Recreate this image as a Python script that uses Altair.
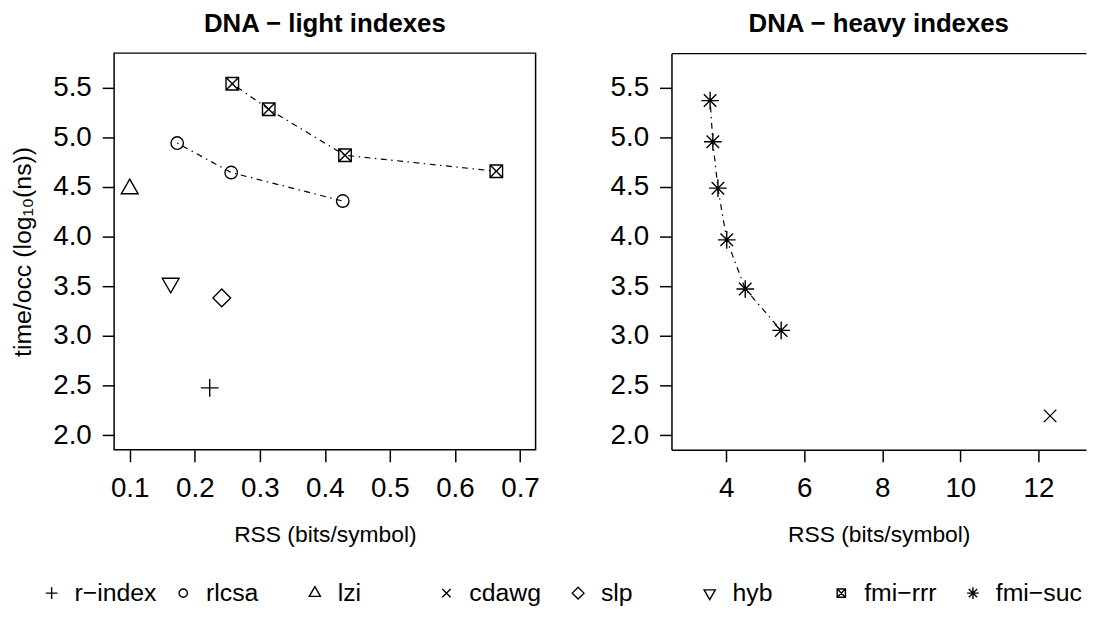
import altair as alt
import pandas as pd

FONT = "Liberation Sans"

# legend order and R-like symbol shapes (unit: R symbol radius)
methods = ["r−index", "rlcsa", "lzi", "cdawg", "slp", "hyb", "fmi−rrr", "fmi−suc"]
shapes = [
    "M-1.414,0L1.414,0M0,-1.414L0,1.414",
    "M1,0A1,1,0,1,1,-1,0A1,1,0,1,1,1,0Z",
    "M0,-1.555L1.347,0.778L-1.347,0.778Z",
    "M-1,-1L1,1M-1,1L1,-1",
    "M0,-1.414L1.414,0L0,1.414L-1.414,0Z",
    "M0,1.555L1.347,-0.778L-1.347,-0.778Z",
    "M-1,-1L1,-1L1,1L-1,1ZM-1,-1L1,1M-1,1L1,-1",
    "M-1.414,0L1.414,0M0,-1.414L0,1.414M-1,-1L1,1M-1,1L1,-1",
]

# DNA - light indexes
light_method = ["r−index", "rlcsa", "rlcsa", "rlcsa", "lzi", "slp", "hyb",
                "fmi−rrr", "fmi−rrr", "fmi−rrr", "fmi−rrr"]
light_rss = [0.223, 0.173, 0.256, 0.4275, 0.100, 0.2415, 0.163,
             0.2577, 0.3137, 0.431, 0.6636]
light_time = [2.476, 4.942, 4.645, 4.358, 4.48, 3.382, 3.531,
              5.54, 5.283, 4.819, 4.658]

# DNA - heavy indexes
heavy_method = ["cdawg", "fmi−suc", "fmi−suc", "fmi−suc", "fmi−suc", "fmi−suc", "fmi−suc"]
heavy_rss = [12.30, 3.59, 3.66, 3.79, 4.016, 4.49, 5.41]
heavy_time = [2.194, 5.37, 4.955, 4.488, 3.967, 3.472, 3.055]

y_ticks = [2.0, 2.5, 3.0, 3.5, 4.0, 4.5, 5.0, 5.5]
light_x_ticks = [0.1, 0.2, 0.3, 0.4, 0.5, 0.6, 0.7]
heavy_x_ticks = [4, 6, 8, 10, 12]

light = pd.DataFrame({"method": light_method, "rss": light_rss, "time": light_time})
heavy = pd.DataFrame({"method": heavy_method, "rss": heavy_rss, "time": heavy_time})
legend_df = pd.DataFrame({"method": methods})

DASH = [1.5, 4.5, 6, 4.5]
PT_SIZE = 159

shape_scale = alt.Scale(domain=methods, range=shapes)
shape_enc = alt.Shape("method:N", scale=shape_scale, legend=None)

y_scale = alt.Scale(domain=[1.852, 5.848], nice=False, zero=False)


def y_axis(title, domain):
    kw = dict(values=y_ticks, format=".1f", domain=domain, labelPadding=11)
    if title:
        kw["title"] = title
        kw["titlePadding"] = 17
        kw["titleFontSize"] = 25
    else:
        kw["title"] = None
    return alt.Axis(**kw)


def panel_title(text):
    return alt.TitleParams(text, fontSize=26, fontWeight="bold", font=FONT,
                           anchor="middle", offset=16, color="black")


# ---------- left panel ----------
lx_scale = alt.Scale(domain=[0.076, 0.724], nice=False, zero=False)
lx_axis = alt.Axis(values=light_x_ticks, format=".1f", title="RSS (bits/symbol)",
                   domain=False, labelPadding=13, titlePadding=21)
ly_axis = y_axis("time/occ (log₁₀(ns))", False)

left_lines = (
    alt.Chart(light)
    .transform_filter(alt.FieldOneOfPredicate(field="method", oneOf=["rlcsa", "fmi−rrr"]))
    .mark_line(color="black", strokeWidth=1.2, strokeDash=DASH)
    .encode(
        x=alt.X("rss:Q", scale=lx_scale, axis=lx_axis),
        y=alt.Y("time:Q", scale=y_scale, axis=ly_axis),
        detail="method:N",
    )
)
left_pts = (
    alt.Chart(light)
    .mark_point(filled=False, color="black", size=PT_SIZE, strokeWidth=1.4, opacity=1)
    .encode(
        x=alt.X("rss:Q", scale=lx_scale, axis=lx_axis),
        y=alt.Y("time:Q", scale=y_scale, axis=ly_axis),
        shape=shape_enc,
    )
)
left = alt.layer(left_lines, left_pts).properties(
    width=425, height=400,
    title=panel_title("DNA − light indexes"),
    view=alt.ViewBackground(stroke="black", strokeWidth=1.5),
)

# ---------- right panel ----------
rx_scale = alt.Scale(domain=[2.6, 13.22], nice=False, zero=False)
rx_axis = alt.Axis(values=heavy_x_ticks, format="d", title="RSS (bits/symbol)",
                   domain=True, labelPadding=13, titlePadding=21)
rx_top = alt.Axis(orient="top", labels=False, ticks=False, domain=True, title=None)
ry_axis = y_axis(None, True)

right_line = (
    alt.Chart(heavy)
    .transform_filter(alt.FieldEqualPredicate(field="method", equal="fmi−suc"))
    .mark_line(color="black", strokeWidth=1.2, strokeDash=DASH)
    .encode(
        x=alt.X("rss:Q", scale=rx_scale, axis=rx_top),
        y=alt.Y("time:Q", scale=y_scale, axis=ry_axis),
    )
)
right_pts = (
    alt.Chart(heavy)
    .mark_point(filled=False, color="black", size=PT_SIZE, strokeWidth=1.4, opacity=1)
    .encode(
        x=alt.X("rss:Q", scale=rx_scale, axis=rx_axis),
        y=alt.Y("time:Q", scale=y_scale, axis=ry_axis),
        shape=shape_enc,
    )
)
right = (
    alt.layer(right_line, right_pts)
    .resolve_axis(x="independent")
    .properties(
        width=418, height=400,
        title=panel_title("DNA − heavy indexes"),
        view=alt.ViewBackground(stroke="transparent"),
    )
)

# ---------- legend row (equal-width columns, like R's horizontal legend) ----------
leg_x = alt.X("method:N", sort=methods,
              scale=alt.Scale(type="point", domain=methods, range=[-63, 866], padding=0),
              axis=None)
leg_pts = (
    alt.Chart(legend_df)
    .mark_point(filled=False, color="black", size=70, strokeWidth=1.4, opacity=1)
    .encode(x=leg_x, shape=shape_enc)
)
leg_txt = (
    alt.Chart(legend_df)
    .mark_text(align="left", baseline="middle", dx=23, fontSize=25, font=FONT, color="black")
    .encode(x=leg_x, text="method:N")
)
legend_row = alt.layer(leg_pts, leg_txt).properties(
    width=860, height=25, view=alt.ViewBackground(stroke="transparent")
)

top = alt.hconcat(left, right, spacing=69)

chart = (
    alt.vconcat(top, legend_row, spacing=33)
    .resolve_scale(shape="shared")
    .properties(padding={"left": 2, "top": 0, "right": 0, "bottom": 0})
    .configure(font=FONT, background="white")
    .configure_axis(
        labelFont=FONT, titleFont=FONT, labelFontSize=28, titleFontSize=23,
        titleFontWeight="normal", labelColor="black", titleColor="black",
        tickColor="black", tickWidth=1.5, tickSize=12, domainColor="black",
        domainWidth=1.5, grid=False, labelFlush=False, labelOverlap=False,
    )
)

chart.save("out.html", embed_options={"renderer": "svg", "actions": False})
